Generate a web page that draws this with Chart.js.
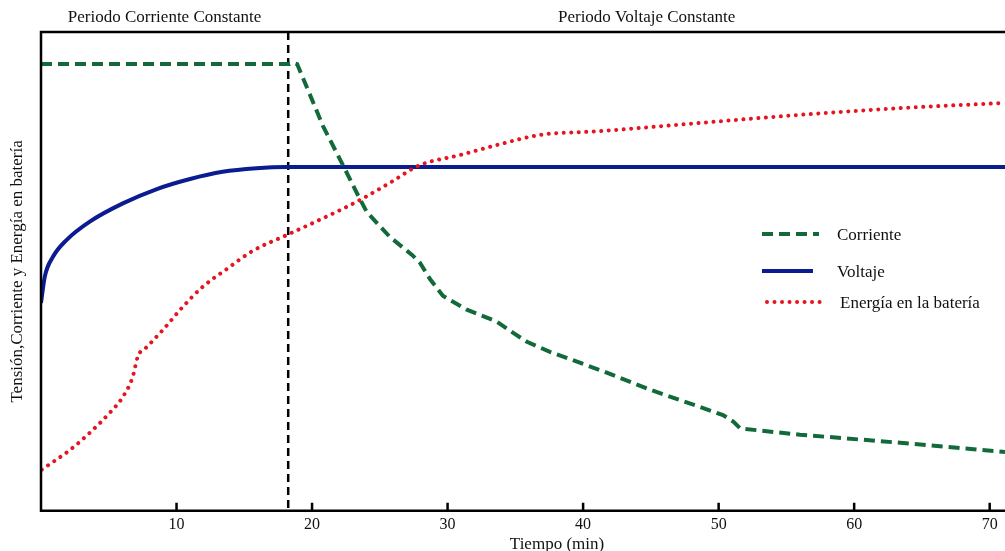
<!DOCTYPE html>
<html>
<head>
<meta charset="utf-8">
<script src="https://cdn.jsdelivr.net/npm/chart.js@4.4.0/dist/chart.umd.min.js"></script>
<style>
  html, body { margin: 0; padding: 0; background: #fff; }
  #wrap { width: 1005px; height: 551px; }
</style>
</head>
<body>
<div id="wrap"><canvas id="grafico"></canvas></div>
<script>
// marcas del eje x
const xTicks = [10, 20, 30, 40, 50, 60, 70];
// minuto en que cambia de corriente constante a voltaje constante
const cambioT = 18.24;

// Corriente
const corrienteT = [0, 18.36, 18.6, 18.9, 19.3, 20.8, 22.42, 23.3, 24.04, 25.74, 27.4, 27.96, 28.7, 29.65, 31.42, 33.64, 34.82, 35.85, 37.55, 41.24, 44.93, 48.62, 50.32, 51.1, 51.6, 56.0, 63.4, 71.13];
const corrienteV = [93.3, 93.3, 93.6, 93.3, 90.6, 80.4, 71.4, 66.4, 62.4, 57.2, 53.4, 51.8, 48.4, 44.9, 42.0, 39.5, 37.2, 35.3, 33.2, 29.4, 25.3, 21.7, 20.0, 18.6, 17.2, 15.9, 14.2, 12.3];

// Voltaje
const voltajeT = [0, 0.28, 0.87, 1.9, 3.6, 6.04, 8.55, 11.0, 13.4, 15.9, 18.1, 71.13];
const voltajeV = [43.4, 48.9, 53.0, 56.6, 60.4, 64.2, 67.2, 69.3, 70.8, 71.55, 71.8, 71.8];

// Energía en la batería
const energiaT = [0.06, 2.13, 3.6, 5.08, 6.04, 6.77, 7.14, 7.8, 9.0, 10.46, 11.94, 13.71, 15.63, 18.14, 20.58, 23.53, 25.74, 27.96, 30.9, 33.64, 36.81, 41.24, 48.62, 56.0, 63.4, 71.13];
const energiaV = [8.6, 12.7, 16.3, 20.5, 23.8, 28.0, 32.2, 34.2, 37.8, 42.6, 46.8, 50.5, 54.3, 57.6, 60.8, 64.9, 68.5, 72.2, 74.3, 76.4, 78.5, 79.3, 81.0, 82.7, 84.1, 85.2];

const serif = "'Liberation Serif', 'DejaVu Serif', serif";

function puntos(ts, vs) {
    return ts.map((t, i) => ({ x: t, y: vs[i] }));
}

// marco, marcas interiores, textos y leyenda
const adornos = {
    id: 'adornos',
    beforeDatasetsDraw(chart) {
        const { ctx, chartArea: a, scales: { x } } = chart;
        const px = x.getPixelForValue(cambioT);
        ctx.save();
        ctx.strokeStyle = '#000';
        ctx.lineWidth = 2.5;
        ctx.setLineDash([8, 5]);
        ctx.beginPath();
        ctx.moveTo(px, a.top);
        ctx.lineTo(px, a.bottom);
        ctx.stroke();
        ctx.restore();
    },
    afterDraw(chart) {
        const { ctx, chartArea: a, scales: { x } } = chart;
        ctx.save();
        ctx.strokeStyle = '#000';
        ctx.lineWidth = 2.5;
        ctx.beginPath();
        ctx.moveTo(a.right + 5, a.top);
        ctx.lineTo(a.left, a.top);
        ctx.lineTo(a.left, a.bottom);
        ctx.lineTo(a.right + 5, a.bottom);
        ctx.stroke();

        ctx.beginPath();
        xTicks.forEach(v => {
            const px = x.getPixelForValue(v);
            ctx.moveTo(px, a.bottom);
            ctx.lineTo(px, a.bottom - 8);
        });
        ctx.stroke();

        ctx.fillStyle = '#111';
        ctx.font = '17px ' + serif;
        ctx.textAlign = 'center';
        ctx.textBaseline = 'middle';
        const pc = x.getPixelForValue(cambioT);
        ctx.fillText('Periodo Corriente Constante', (a.left + pc) / 2, 18);
        ctx.fillText('Periodo Voltaje Constante', (pc + a.right) / 2, 18);
        ctx.fillText('Tiempo (min)', 557, 545);

        ctx.save();
        ctx.translate(18, (a.top + a.bottom) / 2);
        ctx.rotate(-Math.PI / 2);
        ctx.fillText('Tensión,Corriente y Energía en batería', 0, 0);
        ctx.restore();

        // leyenda
        const filas = [234, 271, 302];
        ctx.textAlign = 'left';
        chart.data.datasets.forEach((ds, i) => {
            const y = filas[i];
            ctx.save();
            ctx.strokeStyle = ds.borderColor;
            ctx.lineWidth = ds.borderWidth;
            ctx.lineCap = ds.borderCapStyle || 'butt';
            ctx.setLineDash(ds.borderDash || []);
            ctx.beginPath();
            ctx.moveTo(i === 2 ? 767 : 762, y);
            ctx.lineTo(i === 2 ? 824 : (i === 0 ? 819 : 813), y);
            ctx.stroke();
            ctx.restore();
            ctx.fillText(ds.label, i === 2 ? 840 : 837, y + 2);
        });
        ctx.restore();
    }
};

new Chart(document.getElementById('grafico'), {
    type: 'line',
    data: {
        datasets: [
            {
                label: 'Corriente',
                data: puntos(corrienteT, corrienteV),
                borderColor: '#126a3b',
                borderWidth: 4,
                borderDash: [11, 6],
                tension: 0,
                order: 1
            },
            {
                label: 'Voltaje',
                data: puntos(voltajeT, voltajeV),
                borderColor: '#0b1c90',
                borderWidth: 4,
                cubicInterpolationMode: 'monotone',
                order: 3
            },
            {
                label: 'Energía en la batería',
                data: puntos(energiaT, energiaV),
                borderColor: '#e5141e',
                borderWidth: 4,
                borderDash: [0.01, 7.5],
                borderCapStyle: 'round',
                cubicInterpolationMode: 'monotone',
                order: 2
            }
        ]
    },
    options: {
        responsive: true,
        maintainAspectRatio: false,
        animation: false,
        layout: { padding: { left: 41, top: 32, right: 0, bottom: 13 } },
        elements: { point: { radius: 0 } },
        plugins: { legend: { display: false }, tooltip: { enabled: false } },
        scales: {
            x: {
                type: 'linear',
                min: 0,
                max: 71.13,
                grid: { display: false, drawTicks: false },
                border: { display: false },
                afterBuildTicks: s => { s.ticks = xTicks.map(v => ({ value: v })); },
                ticks: {
                    font: { family: serif, size: 16 },
                    color: '#111',
                    padding: 4
                }
            },
            y: { display: false, min: 0, max: 100 }
        }
    },
    plugins: [adornos]
});
</script>
</body>
</html>
